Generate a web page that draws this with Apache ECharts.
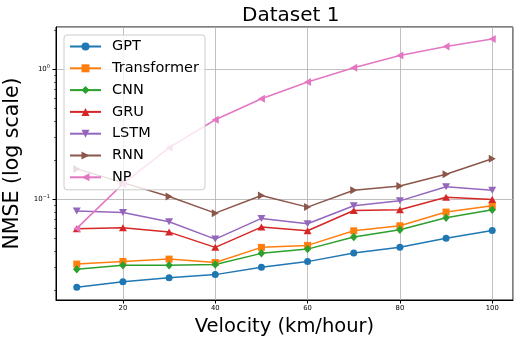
<!DOCTYPE html>
<html>
<head>
<meta charset="utf-8">
<script src="https://cdn.jsdelivr.net/npm/echarts@6/dist/echarts.min.js"></script>
<style>
  html, body { margin: 0; padding: 0; background: #fff; }
  #chart { width: 514px; height: 337px; }
</style>
</head>
<body>
<div id="chart"></div>
<script>
const velocity = [10, 20, 30, 40, 50, 60, 70, 80, 90, 100]

const gpt = [0.0209, 0.0231, 0.0248, 0.0262, 0.0298, 0.0330, 0.0385, 0.0425, 0.0500, 0.0574]
const transformer = [0.0316, 0.0331, 0.0345, 0.0325, 0.0425, 0.0440, 0.0570, 0.0623, 0.0795, 0.0888]
const cnn = [0.0288, 0.0309, 0.0310, 0.0313, 0.0382, 0.0412, 0.0510, 0.0580, 0.0718, 0.0828]
const gru = [0.0591, 0.0601, 0.0557, 0.0425, 0.0609, 0.0570, 0.0818, 0.0828, 0.1035, 0.0993]
const lstm = [0.0809, 0.0789, 0.0669, 0.0492, 0.0710, 0.0646, 0.0888, 0.0970, 0.1245, 0.1170]
const rnn = [0.171, 0.134, 0.1047, 0.078, 0.1066, 0.0868, 0.117, 0.126, 0.1556, 0.205]
const np = [0.0595, 0.131, 0.249, 0.409, 0.594, 0.798, 1.03, 1.28, 1.50, 1.71]

const xTicks = [20, 40, 60, 80, 100]
const yMinorTicks = [0.02, 0.03, 0.04, 0.05, 0.06, 0.07, 0.08, 0.09,
  0.2, 0.3, 0.4, 0.5, 0.6, 0.7, 0.8, 0.9, 2]

const FONT = 'DejaVu Sans'

// name, values, color, symbol, size, rotate
const seriesDefs = [
  ['GPT', gpt, '#1f77b4', 'circle', 7, 0],
  ['Transformer', transformer, '#ff7f0e', 'rect', 7, 0],
  ['CNN', cnn, '#2ca02c', 'diamond', [7.5, 8.5], 0],
  ['GRU', gru, '#d62728', 'triangle', [8, 7], 0],
  ['LSTM', lstm, '#9467bd', 'triangle', [8, 7], 180],
  ['RNN', rnn, '#8c564b', 'triangle', [8, 7], -90],
  ['NP', np, '#e377c2', 'triangle', [8, 7], 90]
]

const chart = echarts.init(document.getElementById('chart'), null, { renderer: 'canvas' })

const series = seriesDefs.map(([name, vals, color, symbol, size, rot]) => ({
  name,
  type: 'line',
  data: velocity.map((v, i) => [v, vals[i]]),
  symbol,
  symbolSize: size,
  symbolRotate: rot,
  showAllSymbol: true,
  lineStyle: { color, width: 1.5 },
  itemStyle: { color, borderWidth: 0 },
  emphasis: { disabled: true },
  animation: false
}))

function yLabel (v) {
  const e = Math.log10(v)
  const r = Math.round(e)
  if (Math.abs(e - r) > 1e-6) return ''
  return '{b|10}{s|' + (r < 0 ? '\u2212' + (-r) : r) + '}'
}

const option = {
  animation: false,
  backgroundColor: '#fff',
  title: {
    text: 'Dataset 1',
    left: 237,
    top: 1,
    textStyle: { fontFamily: FONT, fontSize: 20, fontWeight: 'normal', color: '#000' }
  },
  legend: {
    orient: 'vertical',
    left: 64,
    top: 35,
    padding: [4, 6, 5, 5],
    itemWidth: 31,
    itemHeight: 10,
    itemGap: 6.8,
    backgroundColor: 'rgba(255,255,255,0.8)',
    borderColor: '#cccccc',
    borderWidth: 1,
    borderRadius: 3,
    textStyle: { fontFamily: FONT, fontSize: 14.5, color: '#000', padding: [0, 0, 0, 6], lineHeight: 14 },
    data: seriesDefs.map(d => d[0])
  },
  grid: {
    left: 56,
    right: 1,
    top: 27,
    bottom: 37,
    outerBoundsMode: 'none',
    containLabel: false,
    show: true,
    borderColor: '#000',
    borderWidth: 1
  },
  xAxis: {
    type: 'value',
    min: 5.5,
    max: 104.5,
    name: 'Velocity (km/hour)',
    nameLocation: 'middle',
    nameGap: 15,
    nameTextStyle: { fontFamily: FONT, fontSize: 19.5, color: '#000' },
    axisLine: { show: true, lineStyle: { color: '#000', width: 1 } },
    axisTick: { show: true, inside: false, length: 3.5, lineStyle: { color: '#000' } },
    axisLabel: {
      margin: 5,
      fontFamily: FONT,
      fontSize: 6.8,
      color: '#000',
      showMinLabel: false,
      showMaxLabel: false,
      formatter: v => (xTicks.includes(v) ? String(v) : '')
    },
    splitLine: { show: true, lineStyle: { color: '#b0b0b0', width: 0.8 } }
  },
  yAxis: {
    type: 'log',
    logBase: 10,
    min: 0.0167,
    max: 2.12,
    name: 'NMSE (log scale)',
    nameLocation: 'middle',
    nameGap: 24,
    nameTextStyle: { fontFamily: FONT, fontSize: 20.5, color: '#000' },
    axisLine: { show: true, lineStyle: { color: '#000', width: 1 } },
    axisTick: { show: true, inside: false, length: 3.5, lineStyle: { color: '#000' } },
    axisLabel: {
      margin: 6,
      color: '#000',
      showMinLabel: false,
      showMaxLabel: false,
      formatter: yLabel,
      rich: {
        b: { fontFamily: FONT, fontSize: 7, color: '#000' },
        s: { fontFamily: FONT, fontSize: 5, color: '#000', padding: [0, 0, 5, 0] }
      }
    },
    splitLine: { show: true, lineStyle: { color: '#b0b0b0', width: 0.8 } }
  },
  series
}

chart.setOption(option)

// matplotlib style minor ticks on the log axis
const x0 = chart.convertToPixel({ xAxisIndex: 0 }, 5.5)
chart.setOption({
  graphic: yMinorTicks.map(v => {
    const y = Math.round(chart.convertToPixel({ yAxisIndex: 0 }, v)) + 0.5
    return {
      type: 'line',
      shape: { x1: x0 - 2, y1: y, x2: x0, y2: y },
      style: { stroke: '#000', lineWidth: 0.6 },
      silent: true
    }
  })
})
</script>
</body>
</html>
